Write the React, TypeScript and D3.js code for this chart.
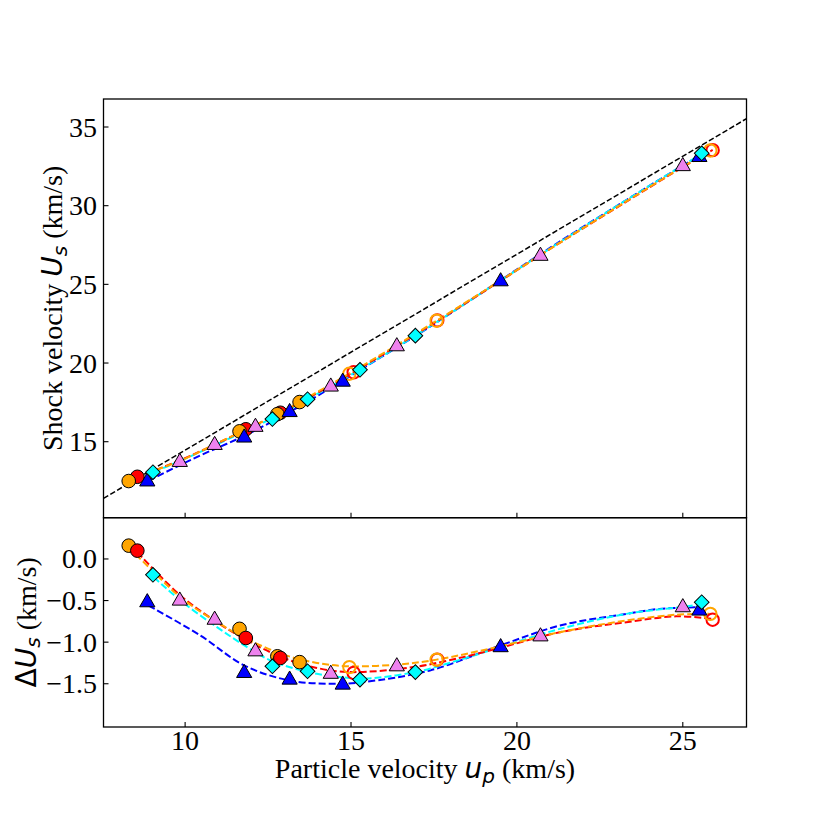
import * as d3 from "d3";

// particle velocity up, shock velocity Us (top) and residual dUs (bottom)
const upOrangeFilled = [8.3, 11.64, 12.78, 13.45];
const usOrangeFilled = [12.5, 15.66, 16.75, 17.52];
const dOrangeFilled = [0.16, -0.84, -1.17, -1.24];

const upOrangeOpen = [14.95, 17.58, 25.83];
const usOrangeOpen = [19.32, 22.69, 33.51];
const dOrangeOpen = [-1.3, -1.21, -0.66];

const upRedFilled = [8.56, 11.83, 12.87];
const usRedFilled = [12.77, 15.79, 16.84];
const dRedFilled = [0.1, -0.95, -1.19];

const upRedOpen = [15.08, 17.6, 25.9];
const usRedOpen = [19.41, 22.71, 33.53];
const dRedOpen = [-1.37, -1.21, -0.73];

const upCyan = [9.03, 12.63, 13.69, 15.27, 16.94, 25.57];
const usCyan = [13.06, 16.44, 17.7, 19.57, 21.74, 33.33];
const dCyan = [-0.19, -1.29, -1.35, -1.45, -1.36, -0.52];

const upViolet = [9.84, 10.89, 12.12, 14.39, 16.38, 20.71, 25.0];
const usViolet = [13.77, 14.85, 16.0, 18.56, 21.12, 26.87, 32.57];
const dViolet = [-0.49, -0.72, -1.1, -1.37, -1.28, -0.92, -0.57];

const upBlue = [8.86, 11.78, 13.15, 14.75, 19.51, 25.5];
const usBlue = [12.53, 15.32, 16.94, 18.87, 25.25, 33.15];
const dBlue = [-0.51, -1.36, -1.44, -1.5, -1.05, -0.61];

// fitted curves
const fitUpBlue = [8.9, 10.46, 11.78, 13.14, 14.47, 15.37, 17.38, 19.5, 21.3, 23.3, 24.3, 25.4];
const fitUsBlue = [12.53, 14.13, 15.37, 16.88, 18.52, 19.68, 22.31, 25.25, 27.73, 30.36, 31.66, 33.05];
const fitDBlue = [-0.56, -0.92, -1.28, -1.46, -1.5, -1.48, -1.34, -1.04, -0.8, -0.66, -0.6, -0.58];

const fitUpCyan = [9.06, 9.86, 10.96, 11.87, 12.63, 13.97, 14.97, 15.37, 16.94, 18.38, 19.5, 21.3, 23.3, 24.9, 25.5];
const fitUsCyan = [13.07, 13.79, 14.84, 15.73, 16.5, 18.02, 19.22, 19.71, 21.74, 23.69, 25.23, 27.69, 30.36, 32.43, 33.21];
const fitDCyan = [-0.22, -0.5, -0.82, -1.06, -1.23, -1.38, -1.43, -1.44, -1.36, -1.2, -1.06, -0.84, -0.66, -0.58, -0.55];

const fitUpOrange = [8.3, 8.96, 9.86, 10.96, 11.96, 12.97, 13.97, 14.97, 16.38, 17.58, 19.39, 21.3, 23.3, 24.8, 25.8];
const fitUsOrange = [12.48, 13.07, 13.79, 14.9, 15.9, 16.98, 18.14, 19.36, 21.14, 22.69, 25.09, 27.65, 30.28, 32.22, 33.47];
const fitDOrange = [0.14, -0.12, -0.46, -0.76, -0.98, -1.15, -1.25, -1.29, -1.27, -1.21, -1.06, -0.88, -0.74, -0.67, -0.66];

const fitUpRed = [8.56, 9.86, 10.96, 11.87, 12.97, 13.97, 14.97, 16.88, 18.38, 19.39, 21.3, 23.3, 24.8, 25.9];
const fitUsRed = [12.75, 13.83, 14.88, 15.81, 16.94, 18.08, 19.29, 21.73, 23.71, 25.07, 27.65, 30.26, 32.2, 33.54];
const fitDRed = [0.08, -0.44, -0.76, -0.98, -1.19, -1.31, -1.36, -1.3, -1.18, -1.08, -0.88, -0.76, -0.69, -0.72];

// black reference line in the top panel
const refUp = [7.54, 26.92];
const refUs = [11.4, 35.53];

const xTicks = [10, 15, 20, 25];
const yTopTicks = [15, 20, 25, 30, 35];
const yBotTicks = [0, -0.5, -1.0, -1.5];

const W = 830;
const H = 830;
const left = 103.5;
const right = 746.5;
const top = 99;
const mid = 517.7;
const bottom = 727;

const serif = "'Liberation Serif', 'DejaVu Serif', serif";
const sans = "'DejaVu Sans', sans-serif";

const x = d3.scaleLinear([7.54, 26.92], [left, right]);
const yTop = d3.scaleLinear([10.17, 36.78], [mid, top]);
const yBot = d3.scaleLinear([-2.02, 0.496], [bottom, mid]);

function zip(a: number[], b: number[]): [number, number][] {
  return a.map((v, i) => [v, b[i]]);
}

function Marker({ kind, cx, cy, color }: { kind: string; cx: number; cy: number; color: string }) {
  if (kind === "circle") {
    return <circle cx={cx} cy={cy} r={6.8} fill={color} stroke="#000" strokeWidth={1} />;
  }
  if (kind === "open") {
    return <circle cx={cx} cy={cy} r={6.2} fill="none" stroke={color} strokeWidth={2} />;
  }
  if (kind === "tri") {
    const p = d3.symbol(d3.symbolTriangle, 100)() ?? "";
    return <path d={p} transform={`translate(${cx},${cy + 1})`} fill={color} stroke="#000" strokeWidth={1} />;
  }
  const p = d3.symbol(d3.symbolSquare, 108)() ?? "";
  return <path d={p} transform={`translate(${cx},${cy}) rotate(45)`} fill={color} stroke="#000" strokeWidth={1} />;
}

export default function App() {
  const topLine = d3.line<[number, number]>().x((d) => x(d[0])).y((d) => yTop(d[1])).curve(d3.curveCatmullRom);
  const botLine = d3.line<[number, number]>().x((d) => x(d[0])).y((d) => yBot(d[1])).curve(d3.curveCatmullRom);

  const fits = [
    { up: fitUpBlue, us: fitUsBlue, d: fitDBlue, color: "#0000ff" },
    { up: fitUpCyan, us: fitUsCyan, d: fitDCyan, color: "#00ffff" },
    { up: fitUpRed, us: fitUsRed, d: fitDRed, color: "#ff0000" },
    { up: fitUpOrange, us: fitUsOrange, d: fitDOrange, color: "#ffa500" },
  ];

  const topSeries = [
    { up: upRedFilled, v: usRedFilled, kind: "circle", color: "#ff0000" },
    { up: upOrangeFilled, v: usOrangeFilled, kind: "circle", color: "#ffa500" },
    { up: upRedOpen, v: usRedOpen, kind: "open", color: "#ff0000" },
    { up: upOrangeOpen, v: usOrangeOpen, kind: "open", color: "#ffa500" },
    { up: upBlue, v: usBlue, kind: "tri", color: "#0000ff" },
    { up: upViolet, v: usViolet, kind: "tri", color: "#ee82ee" },
    { up: upCyan, v: usCyan, kind: "dia", color: "#00ffff" },
  ];
  const botSeries = [
    { up: upOrangeFilled, v: dOrangeFilled, kind: "circle", color: "#ffa500" },
    { up: upRedFilled, v: dRedFilled, kind: "circle", color: "#ff0000" },
    { up: upRedOpen, v: dRedOpen, kind: "open", color: "#ff0000" },
    { up: upOrangeOpen, v: dOrangeOpen, kind: "open", color: "#ffa500" },
    { up: upBlue, v: dBlue, kind: "tri", color: "#0000ff" },
    { up: upViolet, v: dViolet, kind: "tri", color: "#ee82ee" },
    { up: upCyan, v: dCyan, kind: "dia", color: "#00ffff" },
  ];

  const fmtBot = (v: number) => (v === 0 ? "0.0" : "−" + Math.abs(v).toFixed(1));

  return (
    <svg width={W} height={H} style={{ position: "absolute", left: 0, top: 0, background: "#fff" }}>
      <defs>
        <clipPath id="clipTop">
          <rect x={left} y={top} width={right - left} height={mid - top} />
        </clipPath>
        <clipPath id="clipBot">
          <rect x={left} y={mid} width={right - left} height={bottom - mid} />
        </clipPath>
      </defs>

      {/* top panel */}
      <g clipPath="url(#clipTop)">
        {fits.map((f, i) => (
          <path key={i} d={topLine(zip(f.up, f.us)) ?? ""} fill="none" stroke={f.color} strokeWidth={2} strokeDasharray="7,3" />
        ))}
        <path d={topLine(zip(refUp, refUs)) ?? ""} fill="none" stroke="#000" strokeWidth={1.5} strokeDasharray="5.5,2.4" />
        {topSeries.map((s, i) =>
          s.up.map((u, j) => <Marker key={`${i}-${j}`} kind={s.kind} cx={x(u)} cy={yTop(s.v[j])} color={s.color} />)
        )}
      </g>

      {/* bottom panel */}
      <g clipPath="url(#clipBot)">
        {fits.map((f, i) => (
          <path key={i} d={botLine(zip(f.up, f.d)) ?? ""} fill="none" stroke={f.color} strokeWidth={2} strokeDasharray="7,3" />
        ))}
        {botSeries.map((s, i) =>
          s.up.map((u, j) => <Marker key={`${i}-${j}`} kind={s.kind} cx={x(u)} cy={yBot(s.v[j])} color={s.color} />)
        )}
      </g>

      {/* frames */}
      <rect x={left} y={top} width={right - left} height={mid - top} fill="none" stroke="#000" strokeWidth={1.3} />
      <rect x={left} y={mid} width={right - left} height={bottom - mid} fill="none" stroke="#000" strokeWidth={1.3} />

      {/* x ticks (inward) */}
      {xTicks.map((t) => (
        <g key={t}>
          <line x1={x(t)} x2={x(t)} y1={mid} y2={mid - 5} stroke="#000" strokeWidth={1.1} />
          <line x1={x(t)} x2={x(t)} y1={bottom} y2={bottom - 5} stroke="#000" strokeWidth={1.1} />
          <text x={x(t)} y={750} textAnchor="middle" fontFamily={serif} fontSize={28}>
            {t}
          </text>
        </g>
      ))}

      {yTopTicks.map((t) => (
        <g key={t}>
          <line x1={left} x2={left + 5} y1={yTop(t)} y2={yTop(t)} stroke="#000" strokeWidth={1.1} />
          <text x={97} y={yTop(t)} dy="0.34em" textAnchor="end" fontFamily={serif} fontSize={28}>
            {t}
          </text>
        </g>
      ))}

      {yBotTicks.map((t) => (
        <g key={t}>
          <line x1={left} x2={left + 5} y1={yBot(t)} y2={yBot(t)} stroke="#000" strokeWidth={1.1} />
          <text x={97} y={yBot(t)} dy="0.34em" textAnchor="end" fontFamily={serif} fontSize={28}>
            {fmtBot(t)}
          </text>
        </g>
      ))}

      {/* axis labels */}
      <text x={(left + right) / 2} y={778} textAnchor="middle" fontFamily={serif} fontSize={28}>
        Particle velocity{" "}
        <tspan fontFamily={sans} fontStyle="italic">u</tspan>
        <tspan fontFamily={sans} fontStyle="italic" fontSize={20} dy={5}>p</tspan>
        <tspan dy={-5}> (km/s)</tspan>
      </text>

      <text transform={`translate(62,${(top + mid) / 2}) rotate(-90)`} textAnchor="middle" fontFamily={serif} fontSize={28}>
        Shock velocity{" "}
        <tspan fontFamily={sans} fontStyle="italic">U</tspan>
        <tspan fontFamily={sans} fontStyle="italic" fontSize={20} dy={5}>s</tspan>
        <tspan dy={-5}> (km/s)</tspan>
      </text>

      <text transform={`translate(36,${(mid + bottom) / 2}) rotate(-90)`} textAnchor="middle" fontFamily={serif} fontSize={28}>
        <tspan fontFamily={sans}>Δ</tspan>
        <tspan fontFamily={sans} fontStyle="italic">U</tspan>
        <tspan fontFamily={sans} fontStyle="italic" fontSize={20} dy={4}>s</tspan>
        <tspan dy={-4}> (km/s)</tspan>
      </text>
    </svg>
  );
}
